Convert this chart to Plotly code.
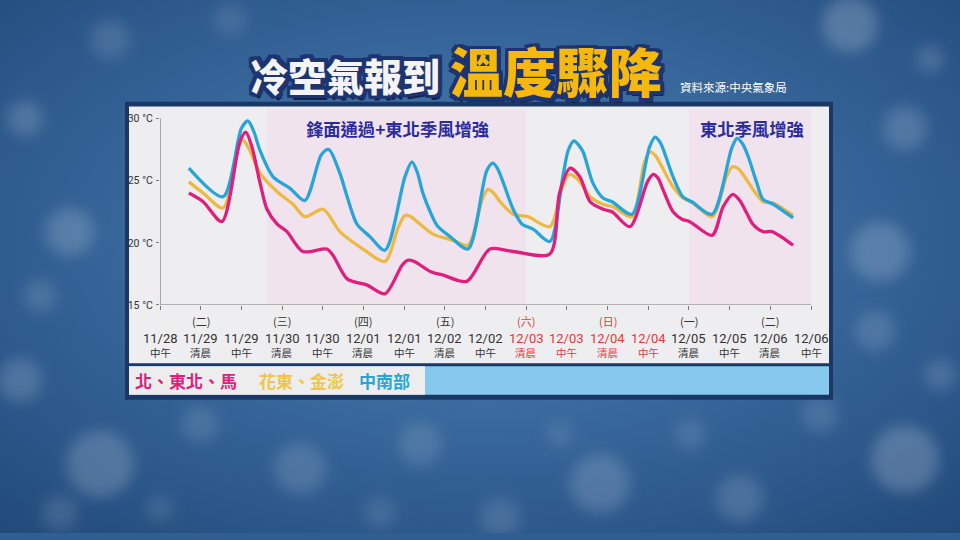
import base64
import plotly.graph_objects as go

# ---------------- data (x in tick-index units: 0 = 11/28 中午, 1 = 11/29 清晨, ...) -------------
tick_dates = ["11/28", "11/29", "11/29", "11/30", "11/30", "12/01", "12/01", "12/02", "12/02",
              "12/03", "12/03", "12/04", "12/04", "12/05", "12/05", "12/06", "12/06"]
tick_periods = ["中午", "清晨", "中午", "清晨", "中午", "清晨", "中午", "清晨", "中午",
                "清晨", "中午", "清晨", "中午", "清晨", "中午", "清晨", "中午"]
tick_weekdays = ["", "(二)", "", "(三)", "", "(四)", "", "(五)", "",
                 "(六)", "", "(日)", "", "(一)", "", "(二)", ""]
weekend_ticks = [9, 10, 11, 12]

y_ticks = [15, 20, 25, 30]
y_ticktext = ["15 °C", "20 °C", "25 °C", "30 °C"]

north_x = [0.71, 1.06, 1.52, 1.97, 2.11, 2.26, 2.46, 2.63, 2.88, 3.12, 3.51, 4.10, 4.25, 4.60,
           5.09, 5.53, 5.95, 6.09, 6.25, 6.64, 6.96, 7.54, 8.11, 8.68, 9.58, 9.82, 10.08, 10.32,
           10.57, 10.89, 11.11, 11.55, 11.98, 12.12, 12.24, 12.36, 12.61, 12.83, 13.02, 13.57,
           13.84, 14.08, 14.25, 14.42, 14.57, 14.82, 15.04, 15.56]
north_t = [24.0, 23.3, 21.7, 28.2, 28.9, 27.7, 24.8, 22.7, 21.5, 20.9, 19.3, 19.5, 19.0, 17.1,
           16.6, 15.9, 18.2, 18.6, 18.5, 17.7, 17.4, 16.9, 19.5, 19.3, 19.1, 24.0, 26.0, 25.3,
           23.3, 22.7, 22.5, 21.3, 24.9, 25.5, 25.2, 24.3, 22.5, 21.9, 21.7, 20.6,
           22.9, 23.9, 23.4, 22.4, 21.5, 20.9, 20.9, 19.8]

east_x = [0.71, 1.06, 1.55, 1.92, 2.04, 2.18, 2.46, 2.88, 3.27, 3.56, 4.01, 4.42, 4.99, 5.53,
          5.85, 6.02, 6.17, 6.32, 6.71, 7.20, 7.57, 7.92, 8.06, 8.20, 8.36, 8.68, 9.04, 9.58,
          9.87, 10.05, 10.27, 10.57, 10.89, 11.13, 11.60, 11.90, 12.04, 12.18, 12.29, 12.61,
          12.85, 13.10, 13.57, 13.92, 14.06, 14.20, 14.33, 14.82, 15.07, 15.56]
east_t = [24.9, 24.0, 22.8, 27.6, 28.25, 27.6, 25.6, 24.1, 23.1, 22.1, 22.7, 20.9, 19.5, 18.5,
          21.2, 22.2, 22.1, 21.7, 20.7, 20.2, 19.8, 23.5, 24.3, 24.0, 23.3, 22.3, 22.1, 21.3,
          24.3, 25.5, 25.1, 23.7, 23.1, 22.9, 22.1, 26.4, 27.3, 27.0, 26.4, 24.5,
          23.6, 23.2, 22.1, 25.3, 26.1, 26.0, 25.5, 23.3, 23.2, 22.2]

south_x = [0.71, 1.55, 2.00, 2.16, 2.30, 2.46, 2.78, 3.19, 3.56, 3.97, 4.15, 4.42, 4.60,
           4.84, 5.16, 5.53, 6.02, 6.19, 6.32, 6.46, 6.64, 6.81, 7.13, 7.57, 8.03, 8.18, 8.29,
           8.43, 8.68, 8.90, 9.17, 9.58, 9.90, 10.03, 10.17, 10.28, 10.40, 10.64, 10.89, 11.11,
           11.60, 12.03, 12.17, 12.29, 12.36, 12.61, 12.85, 13.07, 13.57, 14.05, 14.18, 14.31,
           14.45, 14.67, 14.82, 15.07, 15.56]
south_t = [26.0, 23.7, 29.2, 29.8, 29.0, 27.4, 25.3, 24.4, 23.4, 27.1, 27.5, 25.6, 23.7,
           21.5, 20.5, 19.4, 25.3, 26.5, 25.7, 24.0, 22.5, 21.4, 20.5, 19.5, 25.8, 26.4, 26.0,
           24.9, 22.7, 21.5, 21.1, 20.1, 25.3, 27.4, 28.2, 27.9, 27.3, 24.8, 23.6, 23.3,
           22.3, 27.7, 28.5, 28.1, 27.6, 25.3, 23.7, 23.3, 22.3, 27.6, 28.4, 28.0,
           27.0, 24.8, 23.5, 23.1, 22.0]

series_names = ["北、東北、馬", "花東、金澎", "中南部"]
shade_spans = [(2.63, 9.0), (13.0, 16.0)]
shade_labels = ["鋒面通過+東北季風增強", "東北季風增強"]

# ---------------- style -------------
C_PINK = "#e01f7c"
C_ORANGE = "#eeb941"
C_BLUE = "#27a5d9"
NARROW = "Liberation Sans Narrow, Arial Narrow, Roboto, Liberation Sans, Arial"
CJK = "Noto Sans CJK TC, Noto Sans CJK SC, sans-serif"


def px(x):
    return x / 960.0


def py(y):
    return 1 - y / 540.0


# background with blurred bokeh spots
spots = [(850, 25, 28, .20), (905, 130, 22, .16), (800, 150, 16, .13), (880, 255, 30, .18),
         (70, 235, 24, .18), (25, 120, 18, .16), (110, 40, 20, .12), (180, 160, 14, .10),
         (100, 470, 34, .18), (300, 475, 26, .14), (600, 490, 30, .16), (905, 465, 34, .2),
         (500, 525, 20, .12), (740, 505, 24, .14), (20, 385, 22, .16), (875, 335, 20, .14),
         (200, 430, 18, .12), (420, 450, 22, .12), (690, 440, 16, .10), (40, 300, 16, .13),
         (930, 60, 14, .14), (60, 520, 18, .12), (820, 420, 18, .12), (380, 520, 16, .10),
         (230, 20, 16, .10), (940, 380, 16, .14), (160, 515, 14, .10), (560, 440, 14, .09)]
circles = "".join(
    f'<circle cx="{x}" cy="{y}" r="{r}" fill="#ffffff" fill-opacity="{o}"/>' for x, y, r, o in spots)
svg = ('<svg xmlns="http://www.w3.org/2000/svg" width="960" height="540">'
       '<defs><radialGradient id="g" cx="50%" cy="45%" r="75%">'
       '<stop offset="0" stop-color="#4c82b9"/><stop offset="1" stop-color="#21497a"/>'
       '</radialGradient><filter id="b" x="-50%" y="-50%" width="200%" height="200%">'
       '<feGaussianBlur stdDeviation="7"/></filter></defs>'
       '<rect width="960" height="540" fill="url(#g)"/>'
       f'<g filter="url(#b)">{circles}</g></svg>')
bg_uri = "data:image/svg+xml;base64," + base64.b64encode(svg.encode()).decode()

fig = go.Figure()
for xs, ts, col in [(east_x, east_t, C_ORANGE), (south_x, south_t, C_BLUE), (north_x, north_t, C_PINK)]:
    fig.add_trace(go.Scatter(x=xs, y=ts, mode="lines",
                             line=dict(color=col, width=3.3, shape="spline", smoothing=0.8),
                             hoverinfo="skip", showlegend=False))

y_top = 15 + (309 - 110) / 12.6

shapes = [
    dict(type="rect", xref="paper", yref="paper", x0=px(125), x1=px(833), y0=py(405), y1=py(103),
         fillcolor="#1b3865", line=dict(width=0), layer="below"),
    dict(type="rect", xref="paper", yref="paper", x0=px(129), x1=px(829), y0=py(368), y1=py(108),
         fillcolor="#eeeef0", line=dict(width=0), layer="below"),
    dict(type="rect", xref="paper", yref="paper", x0=px(129), x1=px(829), y0=py(400), y1=py(371),
         fillcolor="#86c8ee", line=dict(width=0), layer="below"),
    dict(type="rect", xref="paper", yref="paper", x0=px(129), x1=px(425), y0=py(400), y1=py(371),
         fillcolor="#ededee", line=dict(width=0), layer="below"),
]
for a, b in shade_spans:
    shapes.append(dict(type="rect", xref="x", yref="y", x0=a, x1=b, y0=15, y1=y_top,
                       fillcolor="#f1e3ee", line=dict(width=0), layer="below"))
shapes += [
    dict(type="line", xref="x", yref="y", x0=0, x1=16, y0=15, y1=15,
         line=dict(color="#7a7a7a", width=1.2), layer="below"),
    dict(type="line", xref="x", yref="y", x0=0, x1=0, y0=15, y1=30,
         line=dict(color="#7a7a7a", width=1.2), layer="below"),
]


def label(x, y, text, font, xref="paper", **kw):
    return dict(x=x, y=y, xref=xref, yref="paper", text=text, showarrow=False,
                xanchor="center", yanchor="middle", font=font, **kw)


ann = []
# x tick labels
for i in range(len(tick_dates)):
    col = "#e5393b" if i in weekend_ticks else "#333333"
    if tick_weekdays[i]:
        ann.append(label(i, py(325), tick_weekdays[i], dict(family=CJK, size=11, color=col), xref="x"))
    ann.append(label(i, py(343), tick_dates[i], dict(family=NARROW, size=13, color=col), xref="x"))
    ann.append(label(i, py(357.5), tick_periods[i], dict(family=CJK, size=10.5, color=col), xref="x"))

# shaded region labels
ann.append(label(px(397), py(130), shade_labels[0],
                 dict(family=CJK, size=17.3, color="#2b2d9c", weight="bold")))
ann.append(label(px(752), py(130), shade_labels[1],
                 dict(family=CJK, size=17.3, color="#2b2d9c", weight="bold")))

# legend strip
for name, xc, col in zip(series_names, [186, 301, 384], [C_PINK, "#efc54a", C_BLUE]):
    ann.append(label(px(xc), py(385), name, dict(family=CJK, size=17, color=col, weight="bold")))


# title with outline
def outlined(text, xc, yc, size, fill, edge, w):
    offs = [(-w, 0), (w, 0), (0, -w), (0, w), (-w, -w), (w, w), (-w, w), (w, -w),
            (-w * .5, -w), (w * .5, w), (-w, w * .5), (w, -w * .5)]
    out = [label(px(xc), py(yc), text, dict(family=CJK, size=size, color="#12244d", weight=900),
                 xshift=3, yshift=-5)]
    for dx, dy in offs:
        out.append(label(px(xc), py(yc), text, dict(family=CJK, size=size, color=edge, weight=900),
                         xshift=dx, yshift=dy))
    out.append(label(px(xc), py(yc), text, dict(family=CJK, size=size, color=fill, weight=900)))
    return out


ann += outlined("冷空氣報到", 345, 75, 38, "#f4f4f6", "#1d3470", 3.5)
ann += outlined("溫度驟降", 556, 71, 53, "#f6b80c", "#1d3470", 3.5)
ann.append(label(px(733), py(88), "資料來源:中央氣象局", dict(family=CJK, size=11.5, color="#ffffff")))

fig.update_layout(
    width=960, height=540, margin=dict(l=0, r=0, t=0, b=0),
    paper_bgcolor="#2f5f92", plot_bgcolor="rgba(0,0,0,0)",
    images=[dict(source=bg_uri, xref="paper", yref="paper", x=0, y=1, sizex=1, sizey=1,
                 sizing="stretch", xanchor="left", yanchor="top", layer="below")],
    xaxis=dict(domain=[px(160), px(811)], range=[0, 16], tickvals=list(range(17)),
               showticklabels=False, ticks="outside", ticklen=4, tickcolor="#7a7a7a",
               showgrid=False, zeroline=False, showline=False, fixedrange=True),
    yaxis=dict(domain=[py(309), py(110)], range=[15, y_top], tickvals=y_ticks, ticktext=y_ticktext,
               ticks="outside", ticklen=3, tickcolor="#7a7a7a", ticklabelstandoff=1,
               tickfont=dict(family=NARROW, size=10.5, color="#333333"),
               showgrid=False, zeroline=False, showline=False, fixedrange=True),
    shapes=shapes, annotations=ann, showlegend=False,
)

fig.write_html("out.html")
